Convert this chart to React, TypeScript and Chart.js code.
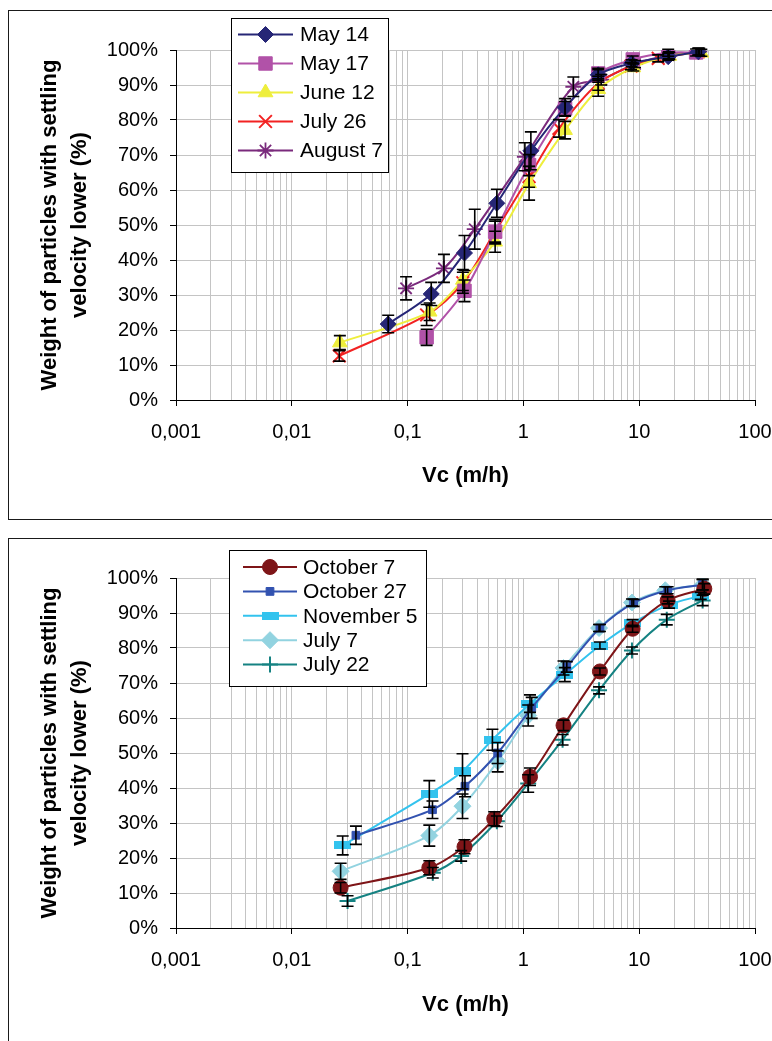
import React, { useEffect, useRef } from 'react';
import { Chart, registerables } from 'chart.js';
import { drawPoint } from 'chart.js/helpers';

Chart.register(...registerables);

const FONT = "'Liberation Sans', Arial, sans-serif";

// ---- axis text ----
const DECADES = [0.001, 0.01, 0.1, 1, 10, 100];
const X_TICK_LABELS = ['0,001', '0,01', '0,1', '1', '10', '100'];
const Y_TITLE = ['Weight of particles with settling', 'velocity lower (%)'];
const X_TITLE = 'Vc (m/h)';

// ---- top chart ----
const may14Vc = [0.068, 0.16, 0.31, 0.59, 1.16, 2.29, 4.43, 8.6, 17.8, 32.4];
const may14Pct = [21.7, 30.3, 42, 56.2, 71.2, 83.6, 92.9, 96.2, 98.1, 99.5];
const may14Err = [2.5, 3.3, 5, 4, 5.4, 2.5, 1.5, 1, 1, 1];

const may17Vc = [0.146, 0.31, 0.57, 1.12, 2.29, 4.43, 8.8, 17.8, 31];
const may17Pct = [17.9, 31.2, 48.1, 67.1, 83.3, 93.3, 97.3, 99.2, 99.3];
const may17Err = [2.3, 3.1, 3.5, 3, 2, 1.5, 1, 1, 1];

const june12Vc = [0.026, 0.155, 0.3, 0.57, 1.12, 2.29, 4.43, 8.9, 18.2, 34.4];
const june12Pct = [16.4, 25.2, 34.3, 45.2, 61.9, 77.1, 88.8, 95, 98.3, 99.2];
const june12Err = [2, 2.5, 3, 3, 4.8, 2.5, 2, 1, 1, 1];

const july26Vc = [0.0257, 0.146, 0.3, 0.57, 1.12, 2.03, 4.43, 8.5, 14.6, 32.4];
const july26Pct = [12.6, 24.3, 33.5, 48.1, 63.8, 77.6, 90.5, 95.4, 97.6, 99.5];
const july26Err = [1.5, 3, 3, 3, 3, 2.5, 2, 1, 1, 1];

const aug7Vc = [0.097, 0.206, 0.38, 1.03, 2.7, 4.7, 9.2, 18, 33];
const aug7Pct = [31.9, 37.6, 48.8, 69.5, 89.5, 91.5, 96, 98.5, 99.5];
const aug7Err = [3.3, 4, 5.7, 4, 2.8, 1.5, 1, 1, 1];

// ---- bottom chart ----
const oct7Vc = [0.0264, 0.154, 0.31, 0.56, 1.14, 2.22, 4.58, 8.77, 17.6, 36.5];
const oct7Pct = [11.5, 17.2, 23.2, 31.2, 43.2, 57.9, 73.3, 85.5, 93.6, 96.9];
const oct7Err = [1.5, 2, 2, 2, 2.5, 1.5, 1, 1, 1, 1.5];

const oct27Vc = [0.0358, 0.164, 0.313, 0.6, 1.18, 2.37, 4.58, 8.95, 17.6, 35.3];
const oct27Pct = [26.5, 33.8, 40.5, 50, 62.9, 74.6, 85.7, 92.9, 96.5, 98.1];
const oct27Err = [2.6, 2.5, 3, 3, 3, 1.5, 1, 1, 1, 1.5];

const nov5Vc = [0.0275, 0.154, 0.298, 0.54, 1.14, 2.28, 4.58, 8.77, 18.1, 34];
const nov5Pct = [23.6, 38.3, 44.8, 53.8, 64.1, 72.4, 80.7, 87.1, 92.4, 94.9];
const nov5Err = [2.7, 3.8, 5, 3, 2.5, 2, 1, 1, 1, 1];

const july7Vc = [0.0264, 0.154, 0.298, 0.6, 1.1, 2.22, 4.5, 8.66, 16.8, 35.3];
const july7Pct = [16.2, 26.4, 34.8, 47.6, 60.7, 74.3, 85.7, 93, 96.5, 98.1];
const july7Err = [2.3, 3, 3.5, 3, 3, 2, 1, 1, 1, 1.5];

const july22Vc = [0.0303, 0.165, 0.29, 0.59, 1.1, 2.18, 4.5, 8.66, 17.3, 35.3];
const july22Pct = [7.7, 15.8, 20.6, 30.5, 41.3, 53.8, 67.9, 79.3, 88.1, 93.6];
const july22Err = [1.5, 1.5, 1.5, 1.5, 2.5, 1.5, 1, 1, 1.5, 1.5];

// gridline values 1..9 x each decade
const GRID_VALUES: number[] = [];
for (let i = 0; i < DECADES.length - 1; i++) {
  for (let m = 1; m <= 9; m++) GRID_VALUES.push(Number((DECADES[i] * m).toPrecision(6)));
}
GRID_VALUES.push(DECADES[DECADES.length - 1]);

function decadeIndex(v: number) {
  return DECADES.findIndex((d) => Math.abs(Math.log10(v) - Math.log10(d)) < 1e-6);
}

function makeRectImage(w: number, h: number, color: string) {
  const c = document.createElement('canvas');
  c.width = w;
  c.height = h;
  const g = c.getContext('2d')!;
  g.fillStyle = color;
  g.fillRect(0, 0, w, h);
  return c;
}

function series(label: string, xs: number[], ys: number[], errs: number[], color: string, shape: any, r: number, bw: number, lineColor?: string) {
  return {
    label,
    data: xs.map((x, i) => ({ x, y: ys[i] })),
    errors: errs,
    borderColor: lineColor || color,
    backgroundColor: color,
    borderWidth: 2,
    pointStyle: shape,
    pointRadius: r,
    pointHoverRadius: r,
    pointBackgroundColor: color,
    pointBorderColor: color,
    pointBorderWidth: bw,
    tension: 0.3,
    fill: false,
  };
}

const errorBarPlugin = {
  id: 'errorBars',
  afterDatasetsDraw(chart: any) {
    const ctx = chart.ctx;
    const xs = chart.scales.x;
    const ys = chart.scales.y;
    ctx.save();
    ctx.strokeStyle = '#000';
    ctx.lineWidth = 1.6;
    chart.data.datasets.forEach((ds: any) => {
      if (!ds.errors) return;
      ds.data.forEach((p: any, j: number) => {
        const e = ds.errors[j];
        const px = xs.getPixelForValue(p.x);
        const t = ys.getPixelForValue(Math.min(100.5, p.y + e));
        const b = ys.getPixelForValue(p.y - e);
        ctx.beginPath();
        ctx.moveTo(px, t);
        ctx.lineTo(px, b);
        ctx.moveTo(px - 6, t);
        ctx.lineTo(px + 6, t);
        ctx.moveTo(px - 6, b);
        ctx.lineTo(px + 6, b);
        ctx.stroke();
      });
    });
    ctx.restore();
  },
};

const boxLegendPlugin = {
  id: 'boxLegend',
  afterDraw(chart: any, _args: any, opts: any) {
    const ctx = chart.ctx;
    const { x, y, w, h, firstRow, rowStep, lineX1, lineX2, textX } = opts;
    ctx.save();
    ctx.fillStyle = '#fff';
    ctx.fillRect(x, y, w, h);
    ctx.strokeStyle = '#000';
    ctx.lineWidth = 1;
    ctx.strokeRect(x + 0.5, y + 0.5, w, h);
    chart.data.datasets.forEach((ds: any, i: number) => {
      const cy = firstRow + i * rowStep;
      ctx.strokeStyle = ds.borderColor;
      ctx.lineWidth = ds.borderWidth;
      ctx.beginPath();
      ctx.moveTo(lineX1, cy);
      ctx.lineTo(lineX2, cy);
      ctx.stroke();
      ctx.fillStyle = ds.pointBackgroundColor;
      ctx.strokeStyle = ds.pointBorderColor;
      ctx.lineWidth = ds.pointBorderWidth;
      drawPoint(ctx, { pointStyle: ds.pointStyle, rotation: 0, radius: ds.pointRadius, borderWidth: ds.pointBorderWidth } as any, (lineX1 + lineX2) / 2, cy);
      ctx.fillStyle = '#000';
      ctx.font = `21px ${FONT}`;
      ctx.textAlign = 'left';
      ctx.textBaseline = 'middle';
      ctx.fillText(ds.label, textX, cy + 1);
    });
    ctx.restore();
  },
};

function makeConfig(datasets: any[], padding: any, xTitlePad: number, legendOpts: any): any {
  return {
    type: 'line',
    data: { datasets },
    plugins: [errorBarPlugin, boxLegendPlugin],
    options: {
      animation: false,
      responsive: true,
      maintainAspectRatio: false,
      layout: { padding },
      plugins: {
        legend: { display: false },
        tooltip: { enabled: false },
        boxLegend: legendOpts,
      },
      scales: {
        x: {
          type: 'logarithmic',
          min: DECADES[0],
          max: DECADES[DECADES.length - 1],
          afterBuildTicks: (s: any) => {
            s.ticks = GRID_VALUES.map((v) => ({ value: v, major: decadeIndex(v) >= 0 }));
          },
          afterFit: (s: any) => {
            s.height = 100;
          },
          ticks: {
            autoSkip: false,
            maxRotation: 0,
            minRotation: 0,
            padding: 14,
            color: '#000',
            font: { size: 20, family: FONT },
            callback: (v: any) => {
              const k = decadeIndex(Number(v));
              return k >= 0 ? X_TICK_LABELS[k] : '';
            },
          },
          grid: {
            color: '#C4C4C4',
            lineWidth: 1,
            tickLength: 6,
            tickColor: (c: any) => (c.tick && c.tick.major ? '#000' : 'rgba(0,0,0,0)'),
          },
          border: { color: '#000', width: 1 },
          title: {
            display: true,
            text: X_TITLE,
            color: '#000',
            font: { size: 22, weight: 'bold', family: FONT },
            padding: { top: 0, bottom: xTitlePad },
          },
        },
        y: {
          min: 0,
          max: 100,
          afterFit: (s: any) => {
            s.width = 156;
          },
          ticks: {
            stepSize: 10,
            padding: 12,
            color: '#000',
            font: { size: 20, family: FONT },
            callback: (v: any) => `${v}%`,
          },
          grid: { color: '#C4C4C4', lineWidth: 1, tickLength: 6, tickColor: '#000' },
          border: { color: '#000', width: 1 },
          title: {
            display: true,
            text: Y_TITLE,
            color: '#000',
            font: { size: 22, weight: 'bold', family: FONT, lineHeight: 1.364 },
            padding: { top: 15, bottom: 0 },
          },
        },
      },
    },
  };
}

function topDatasets() {
  return [
    series('May 14', may14Vc, may14Pct, may14Err, '#262676', 'rectRot', 8, 1),
    series('May 17', may17Vc, may17Pct, may17Err, '#B152A8', 'rect', 9.5, 1),
    series('June 12', june12Vc, june12Pct, june12Err, '#EEEE3C', 'triangle', 8.5, 1),
    series('July 26', july26Vc, july26Pct, july26Err, '#F22222', 'crossRot', 9, 2),
    series('August 7', aug7Vc, aug7Pct, aug7Err, '#7A2A7C', 'star', 8, 1.8),
  ];
}

function bottomDatasets() {
  const nov5Marker = makeRectImage(17, 8, '#33C3EE');
  return [
    series('October 7', oct7Vc, oct7Pct, oct7Err, '#7E1518', 'circle', 7.5, 1),
    series('October 27', oct27Vc, oct27Pct, oct27Err, '#3252B0', 'rect', 5.5, 1),
    series('November 5', nov5Vc, nov5Pct, nov5Err, '#33C3EE', nov5Marker, 8, 1),
    series('July 7', july7Vc, july7Pct, july7Err, '#92D3E0', 'rectRot', 8.5, 1),
    series('July 22', july22Vc, july22Pct, july22Err, '#158282', 'cross', 8, 2),
  ];
}

function ChartCanvas({ build, style }: { build: () => any; style: React.CSSProperties }) {
  const ref = useRef<HTMLCanvasElement | null>(null);
  useEffect(() => {
    if (!ref.current) return;
    const chart = new Chart(ref.current, build());
    return () => chart.destroy();
  }, []);
  return (
    <div style={style}>
      <canvas ref={ref} />
    </div>
  );
}

export default function App() {
  const boxBorder = '1.6px solid #1a1a1a';
  return (
    <div style={{ position: 'absolute', left: 0, top: 0, width: 772, height: 1041, overflow: 'hidden', background: '#fff' }}>
      <div style={{ position: 'absolute', left: 8, top: 10, width: 900, height: 510, border: boxBorder, boxSizing: 'border-box' }} />
      <div style={{ position: 'absolute', left: 8, top: 538, width: 900, height: 600, border: boxBorder, boxSizing: 'border-box' }} />
      <ChartCanvas
        style={{ position: 'absolute', left: 0, top: 0, width: 830, height: 520 }}
        build={() =>
          makeConfig(topDatasets(), { left: 20, top: 50, right: 75, bottom: 20 }, 11, {
            x: 231, y: 18, w: 157, h: 154, firstRow: 34.5, rowStep: 29, lineX1: 238, lineX2: 293, textX: 300,
          })
        }
      />
      <ChartCanvas
        style={{ position: 'absolute', left: 0, top: 530, width: 830, height: 511 }}
        build={() =>
          makeConfig(bottomDatasets(), { left: 20, top: 48, right: 75, bottom: 13 }, 10, {
            x: 229, y: 20, w: 197, h: 136, firstRow: 37, rowStep: 24.4, lineX1: 243, lineX2: 297, textX: 303,
          })
        }
      />
    </div>
  );
}
